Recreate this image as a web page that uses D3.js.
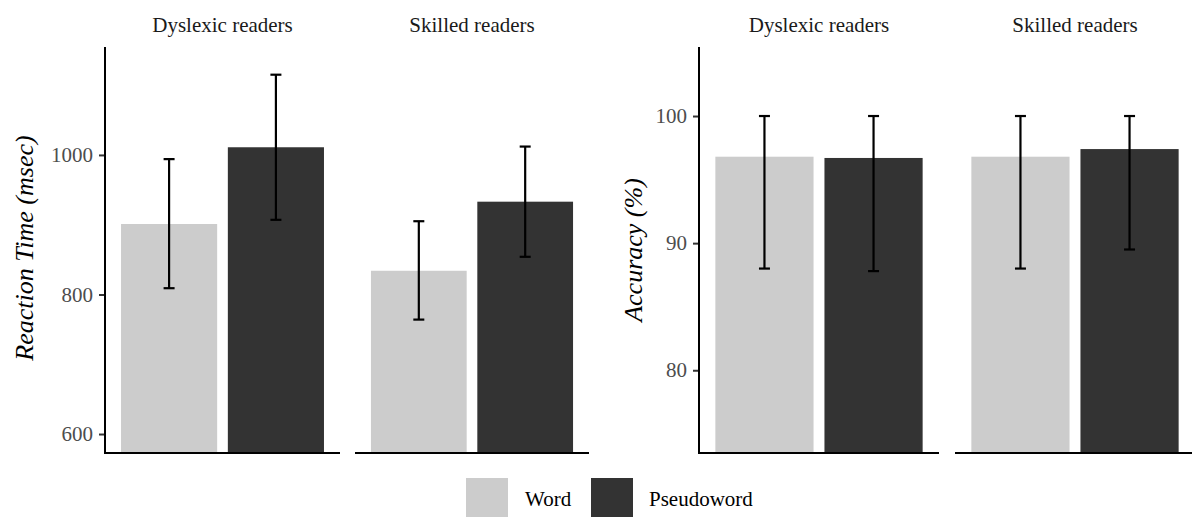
<!DOCTYPE html>
<html>
<head>
<meta charset="utf-8">
<script src="https://cdn.jsdelivr.net/npm/d3@7"></script>
<style>
  html, body { margin: 0; padding: 0; background: #ffffff; }
  svg { display: block; }
  svg text { font-family: "Liberation Serif", "Times New Roman", serif; }
</style>
</head>
<body>
<svg id="chart" width="1192" height="517" font-family="Liberation Serif, Times New Roman, serif"></svg>
<script>
// ---- data ----
const groups = ["Dyslexic readers", "Skilled readers"];
const conditions = ["Word", "Pseudoword"];
const colors = ["#CCCCCC", "#333333"];

// Reaction time (msec) per group, per condition
const rtMean = [[901, 1011], [834, 933]];
const rtLow  = [[809, 907], [764, 854]];
const rtHigh = [[994, 1115], [905, 1012]];
const rtTicks = [600, 800, 1000];

// Accuracy (%) per group, per condition
const accMean = [[96.8, 96.7], [96.8, 97.4]];
const accLow  = [[88.0, 87.8], [88.0, 89.5]];
const accHigh = [[100, 100], [100, 100]];
const accTicks = [80, 90, 100];

const SERIF = "Liberation Serif, Times New Roman, serif";
const svg = d3.select("#chart");
const FONT = 21;

function drawPlot(cfg) {
  const y = d3.scaleLinear().domain(cfg.domain).range([cfg.bottom, cfg.top]);
  const g = svg.append("g");

  cfg.panels.forEach((p, gi) => {
    const x = d3.scalePoint().domain(conditions).range([p[0], p[1]]).padding(0.6);
    const bw = x.step() * 0.9;
    const pg = g.append("g");

    // strip label
    pg.append("text")
      .attr("x", (p[0] + p[1]) / 2)
      .attr("y", 32)
      .attr("text-anchor", "middle")
      .attr("font-family", SERIF)
      .attr("font-size", FONT)
      .attr("fill", "#1A1A1A")
      .text(groups[gi]);

    // bars
    pg.selectAll("rect.bar")
      .data(conditions)
      .join("rect")
      .attr("class", "bar")
      .attr("x", d => x(d) - bw / 2)
      .attr("width", bw)
      .attr("y", (d, i) => y(cfg.mean[gi][i]))
      .attr("height", (d, i) => cfg.bottom - y(cfg.mean[gi][i]))
      .attr("fill", (d, i) => colors[i]);

    // error bars
    const eb = pg.selectAll("g.eb")
      .data(conditions)
      .join("g")
      .attr("class", "eb");
    const cap = 5.5;
    eb.append("line")
      .attr("x1", d => x(d)).attr("x2", d => x(d))
      .attr("y1", (d, i) => y(cfg.low[gi][i]))
      .attr("y2", (d, i) => y(cfg.high[gi][i]))
      .attr("stroke", "#000").attr("stroke-width", 2.2);
    eb.append("line")
      .attr("x1", d => x(d) - cap).attr("x2", d => x(d) + cap)
      .attr("y1", (d, i) => y(cfg.low[gi][i]))
      .attr("y2", (d, i) => y(cfg.low[gi][i]))
      .attr("stroke", "#000").attr("stroke-width", 2.2);
    eb.append("line")
      .attr("x1", d => x(d) - cap).attr("x2", d => x(d) + cap)
      .attr("y1", (d, i) => y(cfg.high[gi][i]))
      .attr("y2", (d, i) => y(cfg.high[gi][i]))
      .attr("stroke", "#000").attr("stroke-width", 2.2);

    // x axis line
    pg.append("line")
      .attr("x1", p[0]).attr("x2", p[1])
      .attr("y1", cfg.bottom).attr("y2", cfg.bottom)
      .attr("stroke", "#000").attr("stroke-width", 2);
  });

  // y axis
  const axis = d3.axisLeft(y)
    .tickValues(cfg.ticks)
    .tickSize(6)
    .tickSizeOuter(0)
    .tickPadding(6)
    .tickFormat(d3.format("d"));
  const ag = g.append("g")
    .attr("transform", `translate(${cfg.panels[0][0]},0)`)
    .call(axis)
    .attr("font-family", SERIF);
  ag.select(".domain").remove();
  ag.selectAll(".tick line").attr("stroke", "#333333").attr("stroke-width", 2);
  ag.selectAll(".tick text")
    .attr("font-size", FONT)
    .attr("font-family", SERIF)
    .attr("fill", "#4D4D4D");
  g.append("line")
    .attr("x1", cfg.panels[0][0]).attr("x2", cfg.panels[0][0])
    .attr("y1", cfg.top).attr("y2", cfg.bottom + 1)
    .attr("stroke", "#000").attr("stroke-width", 2);

  // y title
  g.append("text")
    .attr("transform", `translate(${cfg.titleX},${cfg.titleY}) rotate(-90)`)
    .attr("text-anchor", "middle")
    .attr("font-family", SERIF)
    .attr("font-size", 26)
    .attr("font-style", "italic")
    .attr("fill", "#000")
    .text(cfg.title);
}

drawPlot({
  panels: [[105, 340], [355, 589]],
  top: 47, bottom: 453,
  domain: [572.8, 1154.7],
  ticks: rtTicks,
  mean: rtMean, low: rtLow, high: rtHigh,
  title: "Reaction Time (msec)",
  titleX: 33, titleY: 248
});

drawPlot({
  panels: [[699, 939], [955, 1195]],
  top: 47, bottom: 453,
  domain: [73.49, 105.43],
  ticks: accTicks,
  mean: accMean, low: accLow, high: accHigh,
  title: "Accuracy (%)",
  titleX: 642, titleY: 250
});

// legend
const lg = svg.append("g");
const legendX = [466, 591];
const legendTextX = [525, 649];
conditions.forEach((c, i) => {
  lg.append("rect")
    .attr("x", legendX[i]).attr("y", 478)
    .attr("width", 42).attr("height", 42)
    .attr("fill", colors[i]);
  lg.append("text")
    .attr("x", legendTextX[i]).attr("y", 506)
    .attr("font-family", SERIF)
    .attr("font-size", FONT)
    .attr("fill", "#000")
    .text(c);
});
</script>
</body>
</html>
